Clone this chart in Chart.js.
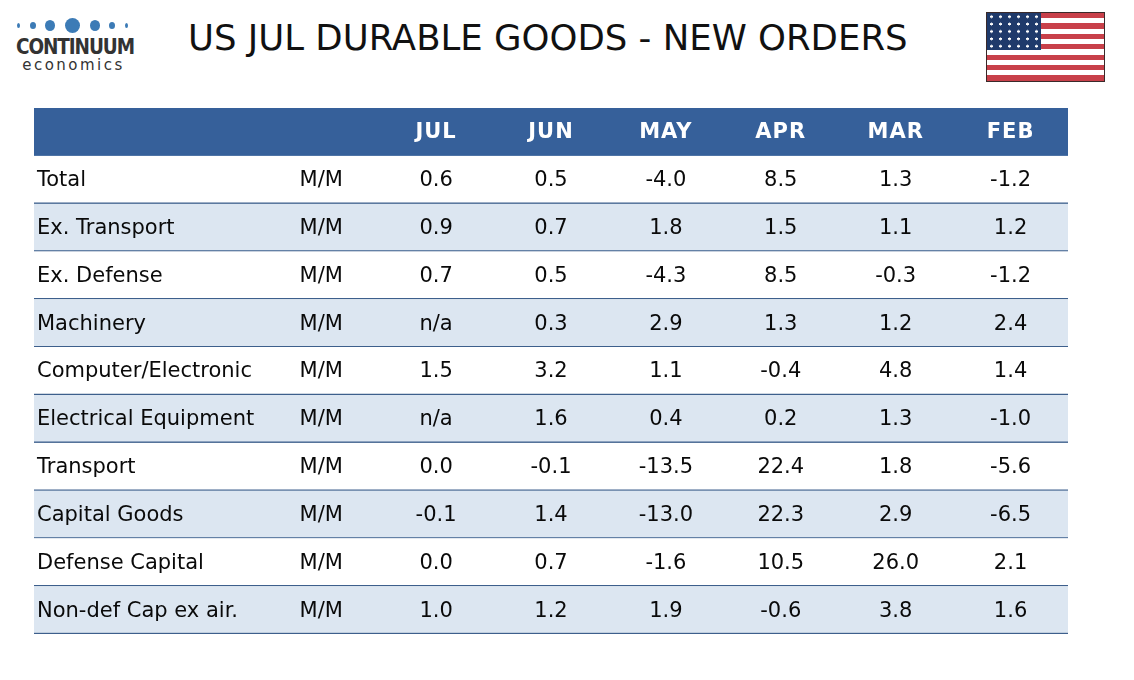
<!DOCTYPE html>
<html>
<head>
<meta charset="utf-8">
<script src="https://cdn.jsdelivr.net/npm/chart.js@4.4.1/dist/chart.umd.min.js"></script>
<style>
  body { margin: 0; width: 1134px; height: 680px; background: #fff; position: relative; overflow: hidden; font-family: "DejaVu Sans", sans-serif; }
  #logo { position: absolute; left: 16px; top: 14px; width: 113px; text-align: center; }
  #dots { height: 22px; display: flex; align-items: center; justify-content: space-between; padding: 0 1px; }
  #dots span { display: inline-block; background: #3c7bb6; border-radius: 50%; }
  #logo .brand { font-family: "DejaVu Sans Condensed", sans-serif; font-weight: bold; font-size: 20.5px; color: #333; letter-spacing: -1.1px; line-height: 19px; margin-top: 2px; white-space: nowrap; }
  #logo .sub { font-family: "DejaVu Sans", sans-serif; font-size: 15px; color: #333; letter-spacing: 2.5px; line-height: 17px; margin-left: 2px; }
  #title { position: absolute; left: 188px; top: 17px; font-size: 35.5px; color: #111; white-space: nowrap; }
  #flag { position: absolute; left: 986px; top: 12px; width: 119px; height: 70px; border: 1.5px solid #3a2a2a; box-sizing: border-box;
    background: repeating-linear-gradient(to bottom, #c8404a 0, #c8404a 5.2px, #fff 5.2px, #fff 10.4px); }
  #canton { position: absolute; left: 0; top: 0; width: 54px; height: 37px; background-color: #1f3a6b;
    background-image: radial-gradient(circle, #fff 1.1px, transparent 1.7px); background-size: 9px 7.4px; background-position: 0 0; }
  #wrap { position: absolute; left: 34px; top: 108px; width: 1034px; height: 526px; }
</style>
</head>
<body>
<div id="logo">
  <div id="dots">
    <span style="width:3px;height:5px"></span>
    <span style="width:6px;height:7px"></span>
    <span style="width:10px;height:11px"></span>
    <span style="width:15px;height:15px"></span>
    <span style="width:10px;height:11px"></span>
    <span style="width:6px;height:7px"></span>
    <span style="width:3px;height:5px"></span>
  </div>
  <div class="brand">CONTINUUM</div>
  <div class="sub">economics</div>
</div>
<div id="title">US JUL DURABLE GOODS - NEW ORDERS</div>
<div id="flag"><div id="canton"></div></div>
<div id="wrap"><canvas id="tableChart"></canvas></div>
<script>
const months = ["JUL", "JUN", "MAY", "APR", "MAR", "FEB"];
const categories = ["Total", "Ex. Transport", "Ex. Defense", "Machinery", "Computer/Electronic",
  "Electrical Equipment", "Transport", "Capital Goods", "Defense Capital", "Non-def Cap ex air."];
const units = ["M/M", "M/M", "M/M", "M/M", "M/M", "M/M", "M/M", "M/M", "M/M", "M/M"];
// null = n/a
const jul = [0.6, 0.9, 0.7, null, 1.5, null, 0.0, -0.1, 0.0, 1.0];
const jun = [0.5, 0.7, 0.5, 0.3, 3.2, 1.6, -0.1, 1.4, 0.7, 1.2];
const may = [-4.0, 1.8, -4.3, 2.9, 1.1, 0.4, -13.5, -13.0, -1.6, 1.9];
const apr = [8.5, 1.5, 8.5, 1.3, -0.4, 0.2, 22.4, 22.3, 10.5, -0.6];
const mar = [1.3, 1.1, -0.3, 1.2, 4.8, 1.3, 1.8, 2.9, 26.0, 3.8];
const feb = [-1.2, 1.2, -1.2, 2.4, 1.4, -1.0, -5.6, -6.5, 2.1, 1.6];

const series = [jul, jun, may, apr, mar, feb];
const rowLabels = [""].concat(categories);
const HEADER_BG = "#36609a";
const ROW_ALT = "#dce6f1";
const LINE = "#3d5f8c";

// x scale: 0-2 label column, 2-3 unit column, 3-9 month columns
const cellText = {
  id: "cellText",
  afterDatasetsDraw(chart) {
    const ctx = chart.ctx;
    const x = chart.scales.x, y = chart.scales.y;
    ctx.save();
    ctx.textBaseline = "middle";
    // header
    ctx.fillStyle = "#fff";
    ctx.font = "bold 21px 'DejaVu Sans', sans-serif";
    ctx.letterSpacing = "1px";
    ctx.textAlign = "center";
    months.forEach((m, j) => ctx.fillText(m, x.getPixelForValue(3.5 + j), y.getPixelForValue(0) + 1));
    // body
    ctx.letterSpacing = "0px";
    ctx.fillStyle = "#0a0a0a";
    ctx.font = "21px 'DejaVu Sans', sans-serif";
    categories.forEach((c, i) => {
      const py = y.getPixelForValue(i + 1) + 1;
      ctx.textAlign = "left";
      ctx.fillText(c, x.getPixelForValue(0) + 3, py);
      ctx.textAlign = "center";
      ctx.fillText(units[i], x.getPixelForValue(2.5), py);
      series.forEach((s, j) => {
        const v = s[i];
        ctx.fillText(v === null ? "n/a" : v.toFixed(1), x.getPixelForValue(3.5 + j), py);
      });
    });
    ctx.restore();
  }
};

new Chart(document.getElementById("tableChart"), {
  type: "bar",
  data: {
    labels: rowLabels,
    datasets: [{
      data: rowLabels.map(() => [0, 9]),
      backgroundColor: rowLabels.map((r, i) => i === 0 ? HEADER_BG : (i % 2 === 0 ? ROW_ALT : "#ffffff")),
      borderColor: rowLabels.map((r, i) => i === 0 ? HEADER_BG : LINE),
      borderWidth: { top: 0, left: 0, right: 0, bottom: 1.5 },
      borderSkipped: false,
      barPercentage: 1,
      categoryPercentage: 1
    }]
  },
  options: {
    indexAxis: "y",
    responsive: true,
    maintainAspectRatio: false,
    animation: false,
    events: [],
    layout: { padding: 0 },
    scales: {
      x: { display: false, min: 0, max: 9 },
      y: { display: false }
    },
    plugins: {
      legend: { display: false },
      tooltip: { enabled: false }
    }
  },
  plugins: [cellText]
});
</script>
</body>
</html>
